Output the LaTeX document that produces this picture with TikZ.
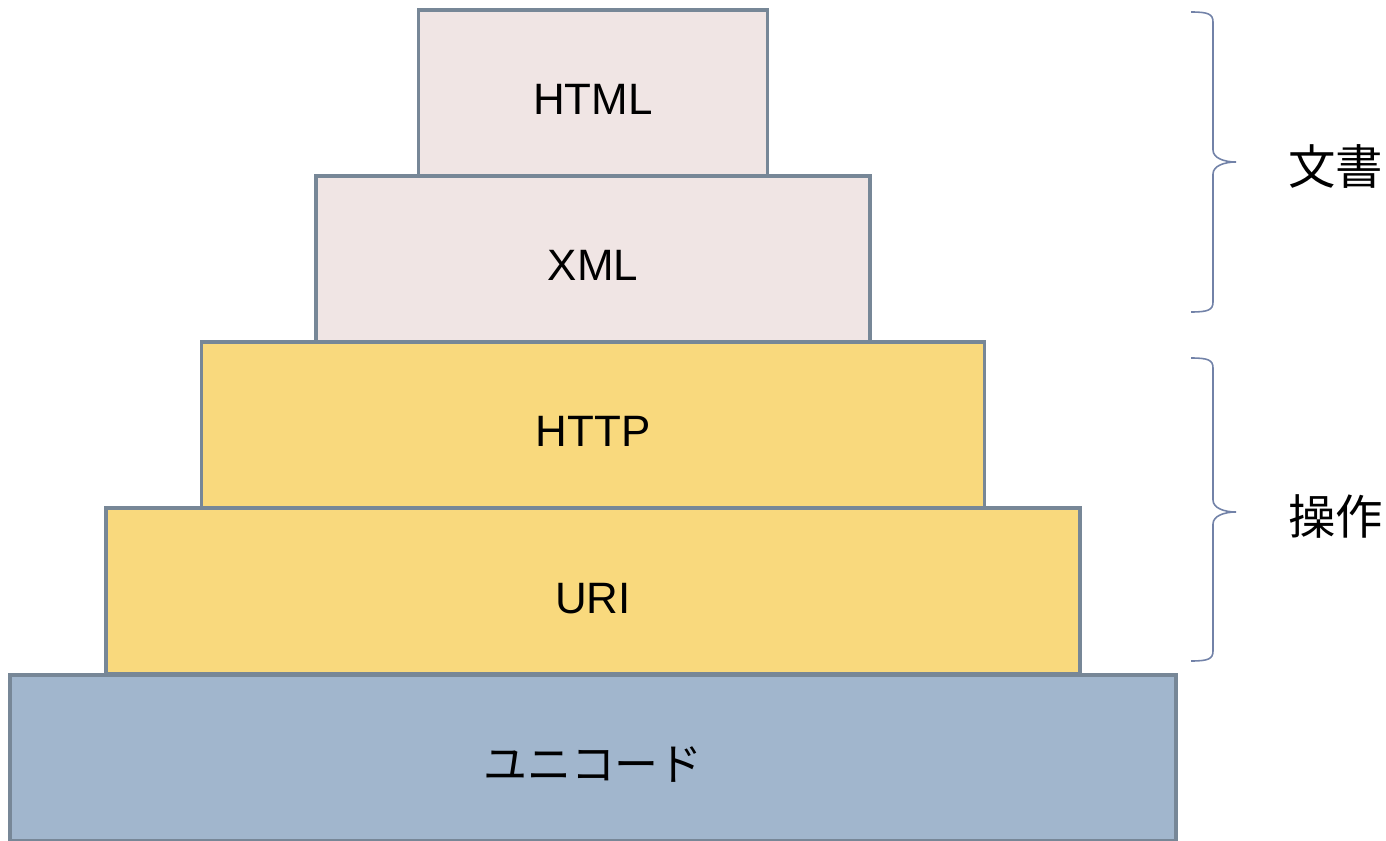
\documentclass[tikz,border=0pt]{standalone}
\usepackage{fontspec}
\setmainfont{Liberation Sans}
\newfontfamily\jpfont{Noto Sans CJK JP}
\usetikzlibrary{calc}

\definecolor{layerline}{HTML}{778797}
\definecolor{docfill}{HTML}{F0E5E4}
\definecolor{opfill}{HTML}{F9D97D}
\definecolor{basefill}{HTML}{A1B6CD}
\definecolor{bracecol}{HTML}{7282A8}

% right-hand curly brace: top end, bottom end, tip
\newcommand{\sidebrace}[3]{%
    \draw[bracket] (#1) .. controls +(17,0) and +(0,-8) .. ++(22,10)
        -- ($(#3)+(-23,-12)$) .. controls +(0,8) and +(-12,0) .. (#3)
        .. controls +(-12,0) and +(0,-8) .. ($(#3)+(-23,12)$)
        -- ($(#2)+(22,-10)$) .. controls +(0,8) and +(17,0) .. (#2);}

\begin{document}
\begin{tikzpicture}[
        x=0.02cm, y=-0.02cm,
        layer/.style={draw=layerline, line width=2pt, minimum height=3.32cm,
            inner sep=0pt, text height=0.88cm, text depth=0pt,
            font=\fontsize{25}{30}\selectfont},
        doc/.style={layer, fill=docfill},
        op/.style={layer, fill=opfill},
        base/.style={layer, fill=basefill},
        bracket/.style={draw=bracecol, line width=0.9pt},
        group/.style={right, inner sep=0pt, font=\jpfont\fontsize{27}{32}\selectfont}
    ]
        \useasboundingbox (0,0) rectangle (1386,841);

        % Layers, top to bottom
        \node[doc, minimum width=6.98cm] (html) at (593, 93) {HTML};
        \node[doc, minimum width=11.08cm] (xml) at (593, 259) {XML};
        \node[op, minimum width=15.66cm] (http) at (593, 425) {HTTP};
        \node[op, minimum width=19.48cm] (uri) at (593, 591) {URI};
        \node[base, minimum width=23.32cm] (unicode) at (593, 758) {\jpfont ユニコード};

        % Braces on the right
        \coordinate (docA) at (1191, 12);
        \coordinate (docB) at (1191, 312);
        \coordinate (docTip) at (1236, 162);
        \coordinate (opA) at (1191, 358);
        \coordinate (opB) at (1191, 661);
        \coordinate (opTip) at (1236, 512);
        \sidebrace{docA}{docB}{docTip}
        \sidebrace{opA}{opB}{opTip}

        % Labels
        \node[group] (doclabel) at (1288, 166) {文書};
        \node[group] (oplabel) at (1288, 516) {操作};

    \end{tikzpicture}
\end{document}
